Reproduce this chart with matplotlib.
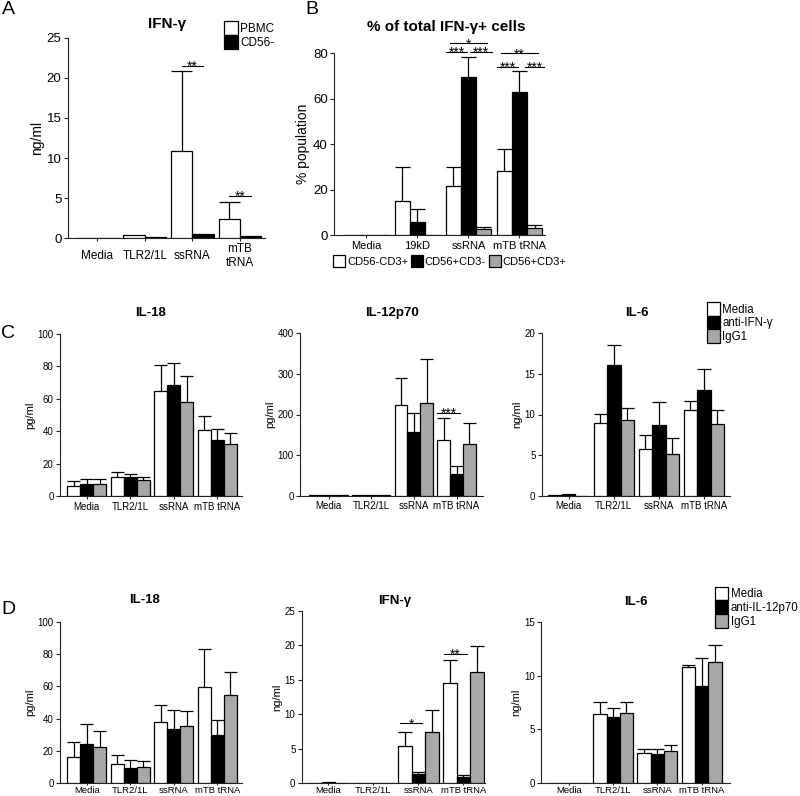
import matplotlib
matplotlib.use("Agg")
import matplotlib.pyplot as plt
from matplotlib.patches import Patch
from matplotlib.transforms import offset_copy

plt.rcParams['font.family'] = ['Liberation Sans', 'DejaVu Sans']

GRAY = '#a8a8a8'
W, H = 800, 796

# ---------------- data ----------------
# A: IFN-g, PBMC vs CD56- depleted
groups_a = ['Media', 'TLR2/1L', 'ssRNA', 'mTB\ntRNA']
pbmc = [0.05, 0.4, 10.9, 2.4]
pbmc_err = [0, 0, 10.0, 2.1]
cd56neg = [0.05, 0.2, 0.5, 0.25]
cd56neg_err = [0, 0, 0, 0]

# B: % of total IFN-g+ cells
groups_b = ['Media', '19kD', 'ssRNA', 'mTB tRNA']
t_cells = [0, 15, 21.7, 28]
t_cells_err = [0, 15, 8.3, 10]
nk_cells = [0, 5.9, 69.7, 62.9]
nk_cells_err = [0, 5.6, 8.8, 9.3]
nkt_cells = [0, 0, 2.5, 2.9]
nkt_cells_err = [0, 0, 0.9, 1.5]

groups_cd = ['Media', 'TLR2/1L', 'ssRNA', 'mTB tRNA']

# C: anti-IFN-g blocking
c_il18 = [[6.4, 11.9, 64.6, 40.5], [7.2, 11.9, 68.7, 34.6], [7.2, 9.9, 57.8, 32.1]]
c_il18_err = [[2.7, 2.9, 16.3, 9.1], [3.5, 1.7, 13.6, 7.0], [3.5, 2.0, 16.1, 6.8]]
c_il12 = [[2, 2, 222.6, 137], [2, 2, 157, 52.6], [2, 2, 227.5, 127]]
c_il12_err = [[0, 0, 66.4, 55], [0, 0, 47.5, 20.4], [0, 0, 110, 51]]
c_il6 = [[0.05, 8.95, 5.8, 10.5], [0.25, 16.06, 8.67, 13.0], [0, 9.36, 5.1, 8.8]]
c_il6_err = [[0, 1.15, 1.67, 1.16], [0, 2.44, 2.87, 2.65], [0, 1.4, 2.05, 1.7]]

# D: anti-IL-12p70 blocking
d_il18 = [[16.5, 11.8, 37.9, 59.4], [24.3, 9.7, 33.4, 29.9], [22.3, 10.3, 35.7, 54.6]]
d_il18_err = [[9.3, 5.5, 10.3, 23.9], [12.2, 4.9, 12.2, 9.1], [10.1, 3.7, 8.8, 14.5]]
d_ifng = [[0.05, 0.1, 5.4, 14.6], [0.25, 0, 1.3, 0.97], [0, 0, 7.45, 16.2]]
d_ifng_err = [[0, 0, 2.0, 3.3], [0, 0, 0.3, 0.23], [0, 0, 3.15, 3.7]]
d_il6 = [[0, 6.43, 2.85, 10.76], [0, 6.16, 2.75, 9.06], [0, 6.53, 3.03, 11.26]]
d_il6_err = [[0, 1.15, 0.37, 0.24], [0, 0.86, 0.47, 2.54], [0, 1.05, 0.56, 1.54]]

fig = plt.figure(figsize=(8, 7.96), dpi=100)


def px_axes(left, top, right, bottom):
    return fig.add_axes([left / W, 1 - bottom / H, (right - left) / W, (bottom - top) / H])


def ftext(x, y, s, **kw):
    fig.text(x / W, 1 - y / H, s, **kw)


def draw_bars(ax, series, errs, colors, width):
    n = len(series)
    for i in range(n):
        xs = [g + (i - (n - 1) / 2) * width for g in range(len(series[i]))]
        ax.bar(xs, series[i], width, color=colors[i], edgecolor='black', linewidth=0.9, zorder=3)
        for x, v, e in zip(xs, series[i], errs[i]):
            if e > 0:
                ax.vlines(x, v, v + e, colors='black', linewidth=0.9, zorder=2)
                ax.hlines(v + e, x - width / 2, x + width / 2, colors='black', linewidth=0.9, zorder=2)


def draw_sig(ax, marks, width, fs):
    tr = offset_copy(ax.transData, fig=fig, y=-fs * 0.36, units='points')
    for g, a, b, y, label in marks:
        ax.plot([g + a * width, g + b * width], [y, y], color='black', lw=0.8, clip_on=False)
        ax.text(g + (a + b) / 2 * width, y, label, ha='center', va='baseline', fontsize=fs,
                transform=tr, clip_on=False)


def style(ax, xlim, ylim, yticks, labels, ylabel, fs, xfs, xpad, center=False, xlen=2, yfs=None):
    ax.set_xlim(xlim)
    ax.set_ylim(ylim)
    ax.set_yticks(yticks)
    ax.set_xticks(range(len(labels)))
    ax.set_xticklabels(labels, fontsize=xfs)
    for s in ['top', 'right']:
        ax.spines[s].set_visible(False)
    for s in ['left', 'bottom']:
        ax.spines[s].set_linewidth(0.8)
        ax.spines[s].set_color('#222222')
    ax.tick_params(axis='y', length=3, width=0.8, labelsize=fs, pad=1.5, color='#222222')
    ax.tick_params(axis='x', length=xlen, width=0.8, pad=xpad, color='#222222')
    if center:
        for t in ax.get_xticklabels():
            t.set_va('center')
            t.set_multialignment('center')
    ax.set_ylabel(ylabel, fontsize=yfs or fs, labelpad=2)


def legend_stack(x, y, colors, labels, fs):
    handles = [Patch(facecolor=c, edgecolor='black', linewidth=0.9) for c in colors]
    fig.legend(handles, labels, loc='upper left', bbox_to_anchor=(x / W, 1 - y / H),
               frameon=False, fontsize=fs, handlelength=1.15, handleheight=1.45,
               labelspacing=0, handletextpad=0.2, borderpad=0, borderaxespad=0)


three = ['white', 'black', GRAY]

# ---------------- A ----------------
ax = px_axes(67.7, 37.7, 265, 238.3)
draw_bars(ax, [pbmc, cd56neg], [pbmc_err, cd56neg_err], ['white', 'black'], 0.45)
style(ax, (-0.62, 3.525), (0, 25), [0, 5, 10, 15, 20, 25], groups_a, 'ng/ml', 9.5, 8.5, 10.5,
      center=True, yfs=10)
draw_sig(ax, [(2, -0.5, 0.5, 21.5, '**'), (3, -0.5, 0.5, 5.3, '**')], 0.45, 10)
ftext(167, 24, 'IFN-γ', ha='center', va='center', fontsize=11, fontweight='bold')
ftext(8, 10, 'A', ha='center', va='center', fontsize=14)
legend_stack(224, 21, ['white', 'black'], ['PBMC', 'CD56-'], 8.5)

# ---------------- B ----------------
ax = px_axes(334, 53.3, 545, 235)
draw_bars(ax, [t_cells, nk_cells, nkt_cells], [t_cells_err, nk_cells_err, nkt_cells_err], three, 0.3)
style(ax, (-0.637, 3.5), (0, 80), [0, 20, 40, 60, 80], groups_b, '% population', 9.5, 8, 2, yfs=10)
draw_sig(ax, [(2, -1.45, -0.1, 80.7, '***'), (2, 0.13, 1.55, 80.7, '***'), (2, -1.18, 1.24, 84.4, '*'),
              (3, -1.5, -0.07, 74.1, '***'), (3, 0.39, 1.57, 74.1, '***'), (3, -1.24, 1.2, 80, '**')],
         0.3, 10)
ftext(446, 27, '% of total IFN-γ+ cells', ha='center', va='center', fontsize=11, fontweight='bold')
ftext(312, 10, 'B', ha='center', va='center', fontsize=14)
handles = [Patch(facecolor=c, edgecolor='black', linewidth=0.9) for c in three]
fig.legend(handles, ['CD56-CD3+', 'CD56+CD3-', 'CD56+CD3+'], loc='center left',
           bbox_to_anchor=(333 / W, 1 - 261 / H), ncol=3, frameon=False, fontsize=8,
           handlelength=1.1, handleheight=1.3, handletextpad=0.15, columnspacing=0.25,
           borderpad=0, borderaxespad=0)

# ---------------- C ----------------
ax = px_axes(60, 334, 242, 496)
draw_bars(ax, c_il18, c_il18_err, three, 0.3)
style(ax, (-0.614, 3.57), (0, 100), [0, 20, 40, 60, 80, 100], groups_cd, 'pg/ml', 7, 7, 2, yfs=8)
ftext(151, 313, 'IL-18', ha='center', va='center', fontsize=9.5, fontweight='bold')
ftext(8, 333, 'C', ha='center', va='center', fontsize=14)

ax = px_axes(300, 333.3, 483, 495.7)
draw_bars(ax, c_il12, c_il12_err, three, 0.3)
style(ax, (-0.67, 3.62), (0, 400), [0, 100, 200, 300, 400], groups_cd, 'pg/ml', 7, 7, 2, yfs=8)
draw_sig(ax, [(3, -1.5, 0.25, 204.5, '***')], 0.3, 10)
ftext(392, 313, 'IL-12p70', ha='center', va='center', fontsize=9.5, fontweight='bold')

ax = px_axes(541.7, 333.3, 730, 495.7)
draw_bars(ax, c_il6, c_il6_err, three, 0.3)
style(ax, (-0.6, 3.58), (0, 20), [0, 5, 10, 15, 20], groups_cd, 'ng/ml', 7, 7, 2, yfs=8)
ftext(637, 313, 'IL-6', ha='center', va='center', fontsize=9.5, fontweight='bold')
legend_stack(706.5, 302, three, ['Media', 'anti-IFN-γ', 'IgG1'], 8.3)

# ---------------- D ----------------
ax = px_axes(60, 621.7, 242, 783.3)
draw_bars(ax, d_il18, d_il18_err, three, 0.3)
style(ax, (-0.614, 3.57), (0, 100), [0, 20, 40, 60, 80, 100], groups_cd, 'pg/ml', 7, 6.8, 0.5,
      xlen=1.5, yfs=8)
ftext(145, 600, 'IL-18', ha='center', va='center', fontsize=9.5, fontweight='bold')
ftext(8, 610, 'D', ha='center', va='center', fontsize=14)

ax = px_axes(301.7, 611, 485, 783.3)
draw_bars(ax, d_ifng, d_ifng_err, three, 0.3)
style(ax, (-0.59, 3.48), (0, 25), [0, 5, 10, 15, 20, 25], groups_cd, 'ng/ml', 7, 6.8, 0.5,
      xlen=1.5, yfs=8)
draw_sig(ax, [(2, -1.38, 0.3, 8.7, '*'), (3, -1.42, 0.28, 18.76, '**')], 0.3, 10)
ftext(395, 601, 'IFN-γ', ha='center', va='center', fontsize=9.5, fontweight='bold')

ax = px_axes(541, 621.7, 730, 783.3)
draw_bars(ax, d_il6, d_il6_err, three, 0.3)
style(ax, (-0.63, 3.64), (0, 15), [0, 5, 10, 15], groups_cd, 'ng/ml', 7, 6.8, 0.5, xlen=1.5, yfs=8)
ftext(635.5, 601.7, 'IL-6', ha='center', va='center', fontsize=9.5, fontweight='bold')
legend_stack(715, 586.5, three, ['Media', 'anti-IL-12p70', 'IgG1'], 8.3)

fig.savefig('out.png', dpi=100)
